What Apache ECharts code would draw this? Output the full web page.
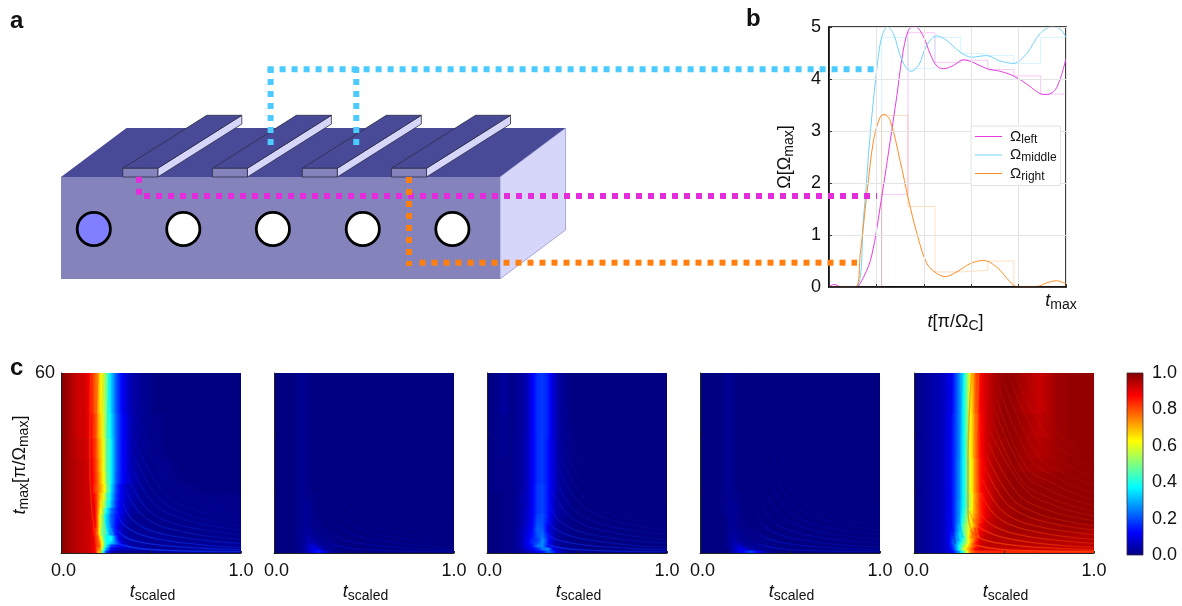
<!DOCTYPE html>
<html>
<head>
<meta charset="utf-8">
<style>html,body{margin:0;padding:0;background:#fff}#chart{width:1182px;height:606px}</style>
<script src="https://cdn.jsdelivr.net/npm/echarts@6/dist/echarts.min.js"></script>
</head>
<body>
<div id="chart"></div>
<script>
// ---------- panel b: pulse shapes, t as a fraction of t_max, value in Omega_max ----------
const curveLeft = [[0,0],[.02,.05],[.055,0],[.111,0],[.146,.19],[.181,.62],[.222,1.72],[.258,2.8],[.287,3.7],[.308,4.4],[.336,4.95],[.365,5],[.4,4.8],[.427,4.48],[.455,4.25],[.483,4.2],[.525,4.26],[.567,4.37],[.608,4.32],[.665,4.2],[.72,4.15],[.778,4.06],[.835,3.9],[.89,3.72],[.918,3.7],[.96,3.83],[1,4.4]];
const curveMiddle = [[0,0],[.111,0],[.146,1.35],[.174,2.95],[.202,4.2],[.222,4.8],[.247,5],[.272,4.87],[.308,4.36],[.346,4.15],[.378,4.26],[.413,4.65],[.455,4.83],[.497,4.74],[.553,4.52],[.602,4.42],[.665,4.45],[.72,4.35],[.778,4.3],[.834,4.49],[.89,4.87],[.94,5],[.975,4.96],[1,4.8]];
const curveRight = [[0,0],[.111,0],[.132,.64],[.16,1.8],[.188,2.82],[.216,3.27],[.233,3.32],[.258,3.2],[.3,2.43],[.336,1.67],[.371,1.03],[.413,.45],[.455,.26],[.49,.2],[.539,.29],[.596,.45],[.652,.51],[.708,.38],[.764,.1],[.792,.01],[.876,.01],[.919,.08],[.96,.12],[1,.06]];
const pulseEdges = [0,.111,.222,.333,.447,.556,.67,.78,.893,1];
const pulseLeft = [0,0,1.78,4.89,4.32,4.36,4.18,4.06,3.71,3.71];
const pulseMiddle = [0,0,4.8,4.2,4.8,4.49,4.45,4.3,4.8,4.8];
const pulseRight = [0,0,3.3,1.55,.29,.32,.5,.01,.01,.01];

// ---------- panel c: t_max band edges and t_scaled sample positions ----------
const tmaxEdges = [0,1,2,3,4,5,6,7.3,8.7,10,11.7,13.3,15.3,17.7,20.3,23.3,27,31.7,38.3,46.7,60];
const tScaled = [0,.05,.1,.13,.16,.19,.22,.25,.28,.31,.34,.37,.4,.45,.5,.55,.6,.7,.8,.9,1];
const colourbarStops = [0,.125,.375,.625,.875,1];

// population in percent, rows run from the smallest t_max band to the largest
const panelA = [
[100,96,94,93,92,88,58,20,6,3,2,2,2,2,2,2,2,2,2,2,2],
[100,96,94,93,92,88,65,30,12,8,6,6,4,3,2,2,2,2,2,2,2],
[100,96,94,93,92,88,72,38,18,14,12,6,3,3,2,2,2,2,2,2,2],
[100,96,94,93,92,88,70,40,32,22,8,4,3,2,2,2,2,2,2,2,2],
[100,96,94,93,92,88,66,38,38,18,6,4,3,2,2,2,2,2,1,1,1],
[100,96,94,93,92,88,62,38,38,16,5,4,3,2,2,2,2,1,1,1,1],
[100,96,94,93,92,85,55,40,25,13,6,3,2,2,2,2,1,1,1,1,1],
[100,96,94,93,92,85,56,38,24,12,6,3,2,2,2,1,1,1,1,1,1],
[100,96,94,93,92,88,58,36,22,12,6,3,2,2,1,1,1,1,1,1,1],
[100,96,94,93,92,88,58,35,22,13,7,4,2,2,1,1,1,1,1,1,1],
[100,96,94,93,92,88,58,35,22,14,8,4,2,1,1,1,1,1,1,1,1],
[100,96,94,93,92,88,62,40,24,15,9,5,3,2,1,1,1,1,1,1,1],
[100,96,94,93,92,88,65,48,30,16,9,6,3,2,1,1,1,1,1,1,1],
[100,96,94,93,92,86,68,52,32,17,10,6,4,2,1,1,1,1,1,1,1],
[100,96,94,93,92,82,72,58,34,18,10,6,4,2,1,1,1,1,0,0,0],
[100,96,94,93,91,84,70,54,36,20,13,8,5,2,1,1,1,0,0,0,0],
[100,96,94,93,91,83,69,52,36,21,13,8,4,2,1,1,1,0,0,0,0],
[100,96,93,93,90,82,68,52,36,21,13,8,4,2,1,1,0,0,0,0,0],
[100,96,92,92,89,80,66,50,34,21,13,8,4,2,1,1,0,0,0,0,0],
[100,96,92,92,88,78,64,50,32,20,12,7,4,2,1,0,0,0,0,0,0]];
const panelB = [
[0,0,0,1,2,6,11,15,9,3,1,1,0,0,0,0,0,0,0,0,0],
[0,0,0,1,2,6,11,9,3,2,1,1,0,0,0,0,0,0,0,0,0],
[0,0,0,1,2,6,8,4,2,2,1,0,0,0,0,0,0,0,0,0,0],
[0,0,0,1,2,5,5,2,2,1,1,0,0,0,0,0,0,0,0,0,0],
[0,0,0,1,2,5,3,2,1,1,1,0,0,0,0,0,0,0,0,0,0],
[0,0,0,1,2,4,2,2,1,1,0,0,0,0,0,0,0,0,0,0,0],
[0,0,0,1,2,3,2,1,1,1,0,0,0,0,0,0,0,0,0,0,0],
[0,0,0,1,2,3,1,1,1,0,0,0,0,0,0,0,0,0,0,0,0],
[0,0,0,1,2,2,1,1,0,0,0,0,0,0,0,0,0,0,0,0,0],
[0,0,0,1,2,2,1,1,0,0,0,0,0,0,0,0,0,0,0,0,0],
[0,0,0,1,2,2,1,0,0,0,0,0,0,0,0,0,0,0,0,0,0],
[0,0,0,1,2,2,1,0,0,0,0,0,0,0,0,0,0,0,0,0,0],
[0,0,0,1,2,2,1,0,0,0,0,0,0,0,0,0,0,0,0,0,0],
[0,0,0,1,2,1,1,0,0,0,0,0,0,0,0,0,0,0,0,0,0],
[0,0,0,1,2,1,0,0,0,0,0,0,0,0,0,0,0,0,0,0,0],
[0,0,0,1,2,1,0,0,0,0,0,0,0,0,0,0,0,0,0,0,0],
[0,0,0,1,2,1,0,0,0,0,0,0,0,0,0,0,0,0,0,0,0],
[0,0,0,1,2,1,0,0,0,0,0,0,0,0,0,0,0,0,0,0,0],
[0,0,0,1,2,1,0,0,0,0,0,0,0,0,0,0,0,0,0,0,0],
[0,0,0,1,2,1,0,0,0,0,0,0,0,0,0,0,0,0,0,0,0]];
const panelC = [
[0,0,1,1,2,3,5,7,11,14,22,16,8,2,1,1,0,0,0,0,0],
[0,0,1,1,2,4,8,12,16,24,26,10,4,1,1,0,0,0,0,0,0],
[0,0,1,1,2,5,10,14,24,26,12,5,2,1,1,0,0,0,0,0,0],
[0,0,1,1,2,5,10,16,20,27,14,5,2,1,0,0,0,0,0,0,0],
[0,0,1,1,2,5,10,16,18,26,15,5,2,1,0,0,0,0,0,0,0],
[0,0,1,1,2,5,9,14,20,24,14,5,2,1,0,0,0,0,0,0,0],
[0,0,1,1,2,5,9,13,21,23,12,5,2,1,0,0,0,0,0,0,0],
[0,0,1,1,2,5,8,13,22,21,10,5,2,1,0,0,0,0,0,0,0],
[0,0,1,1,2,4,8,12,21,20,11,5,2,1,0,0,0,0,0,0,0],
[0,0,1,1,2,4,7,12,20,20,13,6,2,1,0,0,0,0,0,0,0],
[0,0,1,1,2,4,7,11,19,20,14,6,3,1,0,0,0,0,0,0,0],
[0,0,1,1,2,4,7,11,18,19,14,7,3,1,0,0,0,0,0,0,0],
[0,0,1,1,2,4,6,11,18,19,14,7,3,1,0,0,0,0,0,0,0],
[0,0,1,1,2,4,6,11,18,19,14,7,3,1,0,0,0,0,0,0,0],
[0,1,1,1,2,3,6,11,18,19,14,8,3,1,0,0,0,0,0,0,0],
[0,1,1,1,2,3,6,11,17,18,14,8,3,1,0,0,0,0,0,0,0],
[0,1,1,1,2,3,6,11,17,18,14,8,3,1,0,0,0,0,0,0,0],
[0,1,2,1,2,3,6,11,17,18,14,8,3,1,0,0,0,0,0,0,0],
[0,1,2,1,2,3,5,11,17,18,15,8,3,1,0,0,0,0,0,0,0],
[0,1,3,1,2,3,5,11,17,18,15,8,3,1,0,0,0,0,0,0,0]];
const panelD = [
[0,0,0,0,1,5,10,14,18,14,8,3,1,0,0,0,0,0,0,0,0],
[0,0,0,0,1,5,11,8,4,3,2,1,1,0,0,0,0,0,0,0,0],
[0,0,0,0,2,5,7,3,2,2,1,1,1,0,0,0,0,0,0,0,0],
[0,0,0,0,2,5,4,2,2,1,1,1,0,0,0,0,0,0,0,0,0],
[0,0,0,0,2,4,2,2,1,1,1,1,0,0,0,0,0,0,0,0,0],
[0,0,0,0,2,3,2,1,1,1,1,0,0,0,0,0,0,0,0,0,0],
[0,0,0,0,2,3,2,1,1,1,0,0,0,0,0,0,0,0,0,0,0],
[0,0,0,0,2,2,1,1,1,0,0,0,0,0,0,0,0,0,0,0,0],
[0,0,0,0,2,2,1,1,0,0,0,0,0,0,0,0,0,0,0,0,0],
[0,0,0,0,2,2,1,1,0,0,0,0,0,0,0,0,0,0,0,0,0],
[0,0,0,0,2,2,1,0,0,0,0,0,0,0,0,0,0,0,0,0,0],
[0,0,0,1,2,2,1,0,0,0,0,0,0,0,0,0,0,0,0,0,0],
[0,0,0,1,2,2,1,0,0,0,0,0,0,0,0,0,0,0,0,0,0],
[0,0,0,1,2,1,1,0,0,0,0,0,0,0,0,0,0,0,0,0,0],
[0,0,0,1,2,1,0,0,0,0,0,0,0,0,0,0,0,0,0,0,0],
[0,0,0,1,2,1,0,0,0,0,0,0,0,0,0,0,0,0,0,0,0],
[0,0,0,1,2,1,0,0,0,0,0,0,0,0,0,0,0,0,0,0,0],
[0,0,0,1,2,1,0,0,0,0,0,0,0,0,0,0,0,0,0,0,0],
[0,0,0,1,2,1,0,0,0,0,0,0,0,0,0,0,0,0,0,0,0],
[0,0,0,1,2,1,0,0,0,0,0,0,0,0,0,0,0,0,0,0,0]];
const panelE = [
[1,2,4,5,6,8,14,28,48,74,82,84,84,84,84,84,84,84,84,84,84],
[1,2,4,5,6,9,18,38,60,74,88,92,92,93,93,93,93,93,93,93,93],
[1,2,4,5,6,9,20,38,55,70,82,92,94,94,94,94,94,94,94,94,94],
[1,2,4,5,6,10,22,34,50,64,84,92,94,95,95,95,95,95,95,94,94],
[1,2,4,5,6,10,22,30,46,66,80,92,94,95,95,95,95,95,95,95,95],
[1,2,4,5,6,10,20,32,44,70,78,90,94,95,96,96,96,96,96,95,95],
[1,2,4,5,6,10,18,32,48,66,80,90,93,95,96,96,96,96,96,96,95],
[1,2,4,5,6,10,16,30,50,62,80,88,92,95,96,97,97,97,97,97,96],
[1,2,4,5,6,10,16,30,50,60,74,88,92,95,96,97,97,97,97,97,97],
[1,2,4,5,6,10,16,28,46,60,76,84,92,95,96,97,97,97,98,98,98],
[1,2,4,5,6,10,16,27,44,60,74,84,90,95,96,97,98,98,98,98,98],
[1,2,4,5,6,10,16,27,42,58,72,84,90,95,96,97,98,98,98,98,98],
[1,2,4,5,6,10,16,27,40,56,72,84,90,95,97,97,98,98,98,98,98],
[1,2,4,5,6,10,16,26,40,56,72,84,90,95,97,98,98,98,98,98,98],
[1,2,4,5,6,10,16,26,40,58,74,86,91,95,97,98,98,98,98,98,98],
[1,2,4,5,6,10,16,26,40,58,74,86,91,95,97,98,98,97,98,98,98],
[1,2,4,5,6,10,16,26,40,58,74,86,91,96,97,98,97,96,97,98,98],
[1,2,4,5,6,10,16,25,40,60,76,87,92,96,97,98,97,95,97,98,98],
[1,2,4,5,6,10,16,25,40,60,76,87,92,96,98,98,97,94,97,98,98],
[1,2,4,5,6,9,15,25,40,60,78,88,92,96,98,98,96,93,97,98,98]];
const heatPanels = [panelA, panelB, panelC, panelD, panelE];

// interference crests in the panels, as [t_scaled, t_max] pairs
const crest1 = [[.31,3.2],[.43,1.55],[.63,.8],[1,.45]];
const crest2 = [[.31,7.7],[.38,4.6],[.57,2.5],[.8,1.55],[1,1.1]];
const crest3 = [[.31,14],[.34,10],[.42,6.7],[.56,4.4],[.8,2.6],[1,1.9]];
const crest4 = [[.34,17],[.39,11.5],[.47,8.2],[.6,5.9],[.8,4.2],[1,3.2]];
const crest5 = [[.36,21],[.43,14],[.53,9.6],[.7,6.8],[.85,5.4],[1,4.5]];
const crest6 = [[.375,25],[.46,16],[.56,11.3],[.7,8.7],[.85,7.2],[1,6.1]];
const crest7 = [[.39,29],[.5,17.5],[.61,12.8],[.78,9.7],[1,7.6]];
const crest8 = [[.4,33],[.54,18.5],[.68,13.3],[.85,10.6],[1,9.1]];
const crest9 = [[.41,37],[.58,19.5],[.75,14.2],[.9,11.8],[1,10.8]];
const crest10 = [[.42,41],[.62,21],[.8,15.4],[.9,13.6],[1,12.4]];
const crest11 = [[.43,45],[.6,24],[.75,18.5],[.9,15.4],[1,14]];
const crest12 = [[.44,49],[.62,26],[.75,21],[.9,17.4],[1,15.8]];
const crest13 = [[.45,53],[.62,29],[.78,23],[.9,19.6],[1,17.8]];
const crest14 = [[.46,57],[.65,31],[.8,25],[.9,22],[1,20]];
const crest15 = [[.48,60],[.68,33],[.82,27],[1,22.5]];
const crest16 = [[.52,60],[.72,35],[.88,28.5],[1,25]];
const crest17 = [[.56,60],[.75,38],[.9,31.5],[1,28]];
const crest18 = [[.62,60],[.8,40],[.9,35],[1,32]];
const fringeCrests = [crest1,crest2,crest3,crest4,crest5,crest6,crest7,crest8,crest9,crest10,crest11,crest12,crest13,crest14,crest15,crest16,crest17,crest18];

// streaks along the steep front, as [t_scaled, t_max] pairs
const streakA = [[[.165,60],[.16,30],[.17,15],[.185,8],[.2,0]],[[.205,60],[.19,30],[.195,15],[.205,6],[.22,0]],[[.235,60],[.225,30],[.23,14],[.25,6]],[[.27,60],[.255,30],[.26,12],[.29,6]]];
const streakE = [[[.21,60],[.2,30],[.205,12],[.23,3]],[[.27,60],[.25,30],[.25,14],[.27,5]],[[.32,60],[.3,30],[.3,14],[.33,5]],[[.36,60],[.34,30],[.335,14],[.36,5]]];

// ---------- presentation ----------
const FONT = '"Liberation Sans", Arial, sans-serif';
const INK = '#111';
const CYAN = '#4ccbff', MAGENTA = '#e32ddb', ORANGE = '#ff8010';
const CURVE_CYAN = '#6fd3f8', CURVE_MAGENTA = '#e53ee0', CURVE_ORANGE = '#ff8c24';
const BLOCK_FRONT = '#8583bb', BLOCK_TOP = '#484a98', BLOCK_SIDE = '#d6d6fb';
const crestLook = [
  {rgb: '10,60,255', a: .8, fade: .8, w: 1.1},
  {rgb: '0,20,255', a: .35, fade: .78, w: 1},
  {rgb: '10,50,255', a: .6, fade: .8, w: 1.1},
  {rgb: '0,30,255', a: .45, fade: .85, w: 1},
  {rgb: '255,70,0', a: .9, fade: .88, w: 1}
];
const streakLook = {
  0: {data: streakA, colours: ['rgba(255,110,0,.3)', 'rgba(255,60,0,.4)', 'rgba(255,200,0,.35)', 'rgba(0,220,255,.3)']},
  4: {data: streakE, colours: ['rgba(0,0,180,.3)', 'rgba(0,120,255,.3)', 'rgba(255,60,0,.35)', 'rgba(255,140,0,.35)']}
};

const clamp = v => Math.max(0, Math.min(1, v));
function jet(v) {
  const c = k => Math.round(255 * clamp(1.5 - Math.abs(4 * v - k)));
  return 'rgb(' + c(3) + ',' + c(2) + ',' + c(1) + ')';
}

const subRich = (size, sub) => ({
  i: {fontFamily: FONT, fontStyle: 'italic', fontSize: size, color: INK},
  n: {fontFamily: FONT, fontSize: size, color: INK},
  s: {fontFamily: FONT, fontSize: sub, color: INK, padding: [Math.round(size * 0.45), 0, 0, 0]}
});

// One band per t_max row; it is shaded across t_scaled from that row's values.
function renderBand(params, api) {
  const a = api.coord([0, api.value(0)]);
  const b = api.coord([1, api.value(1)]);
  const n = tScaled.length;
  const stops = [];
  for (let k = 0; k < n; k++) {
    const v0 = api.value(2 + k) / 100;
    const p0 = tScaled[k];
    stops.push({offset: p0, color: jet(v0)});
    if (k < n - 1) {
      const v1 = api.value(3 + k) / 100, p1 = tScaled[k + 1];
      for (let q = 1; q < 4; q++) {
        stops.push({offset: p0 + (p1 - p0) * q / 4, color: jet(v0 + (v1 - v0) * q / 4)});
      }
    }
  }
  return {
    type: 'rect',
    shape: {x: a[0], y: b[1], width: b[0] - a[0], height: a[1] - b[1] + 0.6},
    style: {fill: new echarts.graphic.LinearGradient(0, 0, 1, 0, stops)}
  };
}
function renderColourbar(params, api) {
  const a = api.coord([0, 0]);
  const b = api.coord([1, 1]);
  return {
    type: 'rect',
    shape: {x: a[0], y: b[1], width: b[0] - a[0], height: a[1] - b[1]},
    style: {
      fill: new echarts.graphic.LinearGradient(0, 1, 0, 0,
        colourbarStops.map(v => ({offset: v, color: jet(v)}))),
      stroke: '#3a2a3a', lineWidth: 0.8
    }
  };
}

const grids = [], xAxes = [], yAxes = [], series = [];

// panel b
grids.push({left: 829, top: 27, width: 237, height: 260, show: true, borderColor: '#000', borderWidth: 1.5, backgroundColor: '#fff'});
xAxes.push({
  type: 'value', gridIndex: 0, min: 0, max: 1, interval: .2, z: 5,
  axisLine: {lineStyle: {color: '#000', width: 1.5}},
  axisTick: {inside: true, length: 3, lineStyle: {color: '#333'}},
  splitLine: {show: true, lineStyle: {color: '#e4e4e4', width: 1}},
  axisLabel: {
    margin: 3, showMaxLabel: true, align: 'center',
    formatter: v => v === 1 ? '{i|t}{s|max}   ' : '',
    rich: subRich(18, 14)
  },
  name: '{i|t}{n|[π/Ω}{s|C}{n|]}', nameLocation: 'middle', nameGap: 17,
  nameTextStyle: {rich: subRich(18, 14), padding: [0, 0, 0, 16]}
});
yAxes.push({
  type: 'value', gridIndex: 0, min: 0, max: 5, interval: 1, z: 5,
  axisLine: {lineStyle: {color: '#000', width: 1.5}},
  axisTick: {inside: true, length: 3, lineStyle: {color: '#333'}},
  splitLine: {show: true, lineStyle: {color: '#e4e4e4', width: 1}},
  axisLabel: {margin: 8, fontFamily: FONT, fontSize: 18, color: INK},
  name: '{n|Ω[Ω}{s|max}{n|]}', nameLocation: 'middle', nameGap: 33, nameRotate: 90,
  nameTextStyle: {rich: subRich(18, 14)}
});
const stepData = vals => pulseEdges.map((x, i) => [x, vals[i]]);
[['pulse left', pulseLeft, CURVE_MAGENTA], ['pulse middle', pulseMiddle, CURVE_CYAN], ['pulse right', pulseRight, CURVE_ORANGE]].forEach(p => {
  series.push({
    type: 'line', name: p[0], xAxisIndex: 0, yAxisIndex: 0, data: stepData(p[1]), step: 'end',
    showSymbol: false, silent: true, lineStyle: {color: p[2], width: 1, opacity: .28}, itemStyle: {color: p[2]}, z: 2
  });
});
[['left', curveLeft, CURVE_MAGENTA], ['middle', curveMiddle, CURVE_CYAN], ['right', curveRight, CURVE_ORANGE]].forEach(p => {
  series.push({
    type: 'line', name: p[0], xAxisIndex: 0, yAxisIndex: 0, data: p[1], smooth: .35,
    showSymbol: false, silent: true, clip: true,
    lineStyle: {color: p[2], width: 1}, itemStyle: {color: p[2]}, z: 3
  });
});

// panel c
const panelLefts = [61, 274, 487, 700, 914];
heatPanels.forEach((rows, idx) => {
  const g = idx + 1;
  grids.push({left: panelLefts[idx], top: 373, width: 180, height: 180, show: false});
  xAxes.push({
    type: 'value', gridIndex: g, min: 0, max: 1, interval: .5, z: 5,
    axisLine: {lineStyle: {color: '#222', width: 1}},
    axisTick: {inside: true, length: 2, lineStyle: {color: '#222'}},
    splitLine: {show: false},
    axisLabel: {margin: 9, fontFamily: FONT, fontSize: 18, color: INK, showMinLabel: true, showMaxLabel: true,
      formatter: v => v === .5 ? '' : (v === 0 ? '{a|0.0}' : v.toFixed(1)),
      rich: {a: {fontFamily: FONT, fontSize: 18, color: INK, padding: [0, 0, 0, 5]}}},
    name: '{i|t}{s|scaled}', nameLocation: 'middle', nameGap: 28,
    nameTextStyle: {rich: subRich(18, 14), padding: [0, 0, 0, 3]}
  });
  yAxes.push(Object.assign({
    type: 'value', gridIndex: g, min: 0, max: 60, interval: 20, z: 5,
    axisLine: {lineStyle: {color: '#222', width: 1}},
    axisTick: {inside: true, length: 2, lineStyle: {color: '#222'}},
    splitLine: {show: false},
    axisLabel: {margin: 6, fontFamily: FONT, fontSize: 18, color: INK, showMaxLabel: true, padding: [4, 0, 0, 0],
      formatter: v => (idx === 0 && v === 60) ? '60' : ''}
  }, idx === 0 ? {
    name: '{i|t}{s|max}{n|[π/Ω}{s|max}{n|]}', nameLocation: 'middle', nameGap: 30, nameRotate: 90,
    nameTextStyle: {rich: subRich(18, 14), padding: [0, 4, 0, 0]}
  } : {}));
  series.push({
    type: 'custom', name: 'population ' + (idx + 1), xAxisIndex: g, yAxisIndex: g, silent: true, clip: true, z: 2,
    renderItem: renderBand,
    encode: {x: [], y: [0, 1]},
    data: rows.map((row, i) => [tmaxEdges[i], tmaxEdges[i + 1]].concat(row))
  });
  const look = crestLook[idx];
  fringeCrests.forEach((crest, i) => {
    const al = look.a * Math.pow(look.fade, i);
    if (al < .05) return;
    const colour = f => 'rgba(' + look.rgb + ',' + (al * f).toFixed(3) + ')';
    series.push({
      type: 'line', name: 'crest ' + (idx + 1) + '-' + (i + 1), xAxisIndex: g, yAxisIndex: g, data: crest,
      smooth: .4, showSymbol: false, silent: true, clip: true, z: 3,
      lineStyle: {
        width: look.w, shadowBlur: 1.5, shadowColor: colour(.8),
        color: new echarts.graphic.LinearGradient(0, 0, 1, 0, [
          {offset: 0, color: colour(.25)}, {offset: .1, color: colour(1)}, {offset: 1, color: colour(.5)}
        ])
      }
    });
  });
  const st = streakLook[idx];
  if (st) st.data.forEach((line, i) => {
    series.push({
      type: 'line', name: 'streak ' + (idx + 1) + '-' + (i + 1), xAxisIndex: g, yAxisIndex: g, data: line,
      smooth: .4, showSymbol: false, silent: true, clip: true, z: 3,
      lineStyle: {width: 1.4, color: st.colours[i], shadowBlur: 2, shadowColor: st.colours[i]}
    });
  });
});

// colour bar
grids.push({left: 1127, top: 373, width: 16, height: 182, show: false});
xAxes.push({type: 'value', gridIndex: 6, min: 0, max: 1, show: false});
yAxes.push({
  type: 'value', gridIndex: 6, min: 0, max: 1, interval: .2, position: 'right', z: 5,
  axisLine: {show: false}, axisTick: {show: false}, splitLine: {show: false},
  axisLabel: {margin: 9, fontFamily: FONT, fontSize: 18, color: INK, formatter: v => v.toFixed(1)}
});
series.push({
  type: 'custom', name: 'colour scale', xAxisIndex: 6, yAxisIndex: 6, silent: true, z: 2,
  renderItem: renderColourbar, data: [[0, 1]]
});

// ---------- schematic (panel a) ----------
const gfx = [];
const poly = (pts, fill, extra) => gfx.push(Object.assign({type: 'polygon', silent: true, z: 1, shape: {points: pts}, style: Object.assign({fill}, extra || {})}));
const dots = (x1, y1, x2, y2, color) => gfx.push({type: 'line', silent: true, z: 20, shape: {x1, y1, x2, y2},
  style: {stroke: color, lineWidth: 6, lineDash: [6, 6], lineCap: 'butt'}});

poly([[61, 177], [126.5, 128], [565.6, 128], [500, 177]], BLOCK_TOP);
poly([[500, 177], [565.6, 128], [565.6, 230], [500, 279]], BLOCK_SIDE, {stroke: '#7a7ab8', lineWidth: .6});
poly([[61, 177], [500, 177], [500, 279], [61, 279]], BLOCK_FRONT);

[122.8, 212.4, 302.3, 391.5].forEach(x => {
  const edge = {stroke: '#2c2c44', lineWidth: .8};
  poly([[x + 35, 168.3], [x + 119, 115.3], [x + 119, 124], [x + 35, 177]], BLOCK_SIDE, edge);
  poly([[x, 168.3], [x + 84, 115.3], [x + 119, 115.3], [x + 35, 168.3]], BLOCK_TOP, edge);
  poly([[x, 168.3], [x + 35, 168.3], [x + 35, 177], [x, 177]], BLOCK_FRONT, edge);
});

[93.8, 183.3, 272.9, 362.8, 452.4].forEach((cx, i) => {
  gfx.push({type: 'circle', silent: true, z: 2, shape: {cx, cy: 229, r: 16.6},
    style: {fill: i === 0 ? '#7f7fff' : '#fff', stroke: '#000', lineWidth: 2.8}});
});

dots(270.6, 145, 270.6, 66, CYAN);
dots(356.3, 145, 356.3, 66, CYAN);
dots(267.6, 69.3, 877, 69.3, CYAN);
dots(139, 176.7, 139, 195, MAGENTA);
dots(144, 196, 877, 196, MAGENTA);
dots(409, 177, 409, 266, ORANGE);
dots(419.5, 262.7, 857, 262.7, ORANGE);

[['a', 10, 22], ['b', 746, 20], ['c', 10, 369]].forEach(t => {
  gfx.push({type: 'text', silent: true, z: 30, left: t[1], top: t[2] - 13,
    style: {text: t[0], fontFamily: FONT, fontWeight: 'bold', fontSize: 24, fill: '#111'}});
});

const chart = echarts.init(document.getElementById('chart'), null, {renderer: 'canvas'});
chart.setOption({
  animation: false,
  backgroundColor: '#fff',
  textStyle: {fontFamily: FONT},
  grid: grids,
  xAxis: xAxes,
  yAxis: yAxes,
  series: series,
  graphic: gfx,
  legend: {
    show: true, left: 971, top: 126, z: 10, orient: 'vertical', itemWidth: 27, itemHeight: 10, itemGap: 2,
    padding: [3, 4, 3, 4], backgroundColor: '#fff', borderColor: '#e2e2e2', borderWidth: 1,
    data: ['left', 'middle', 'right'],
    icon: 'path://M0,4.5 H27 V5.5 H0 Z',
    formatter: name => '{n|Ω}{s|' + name + '}',
    textStyle: {rich: {
      n: {fontFamily: FONT, fontSize: 15, color: INK, padding: [0, 0, 0, 3]},
      s: {fontFamily: FONT, fontSize: 12, color: INK, padding: [6, 0, 0, 0]}
    }}
  }
});
</script>
</body>
</html>
